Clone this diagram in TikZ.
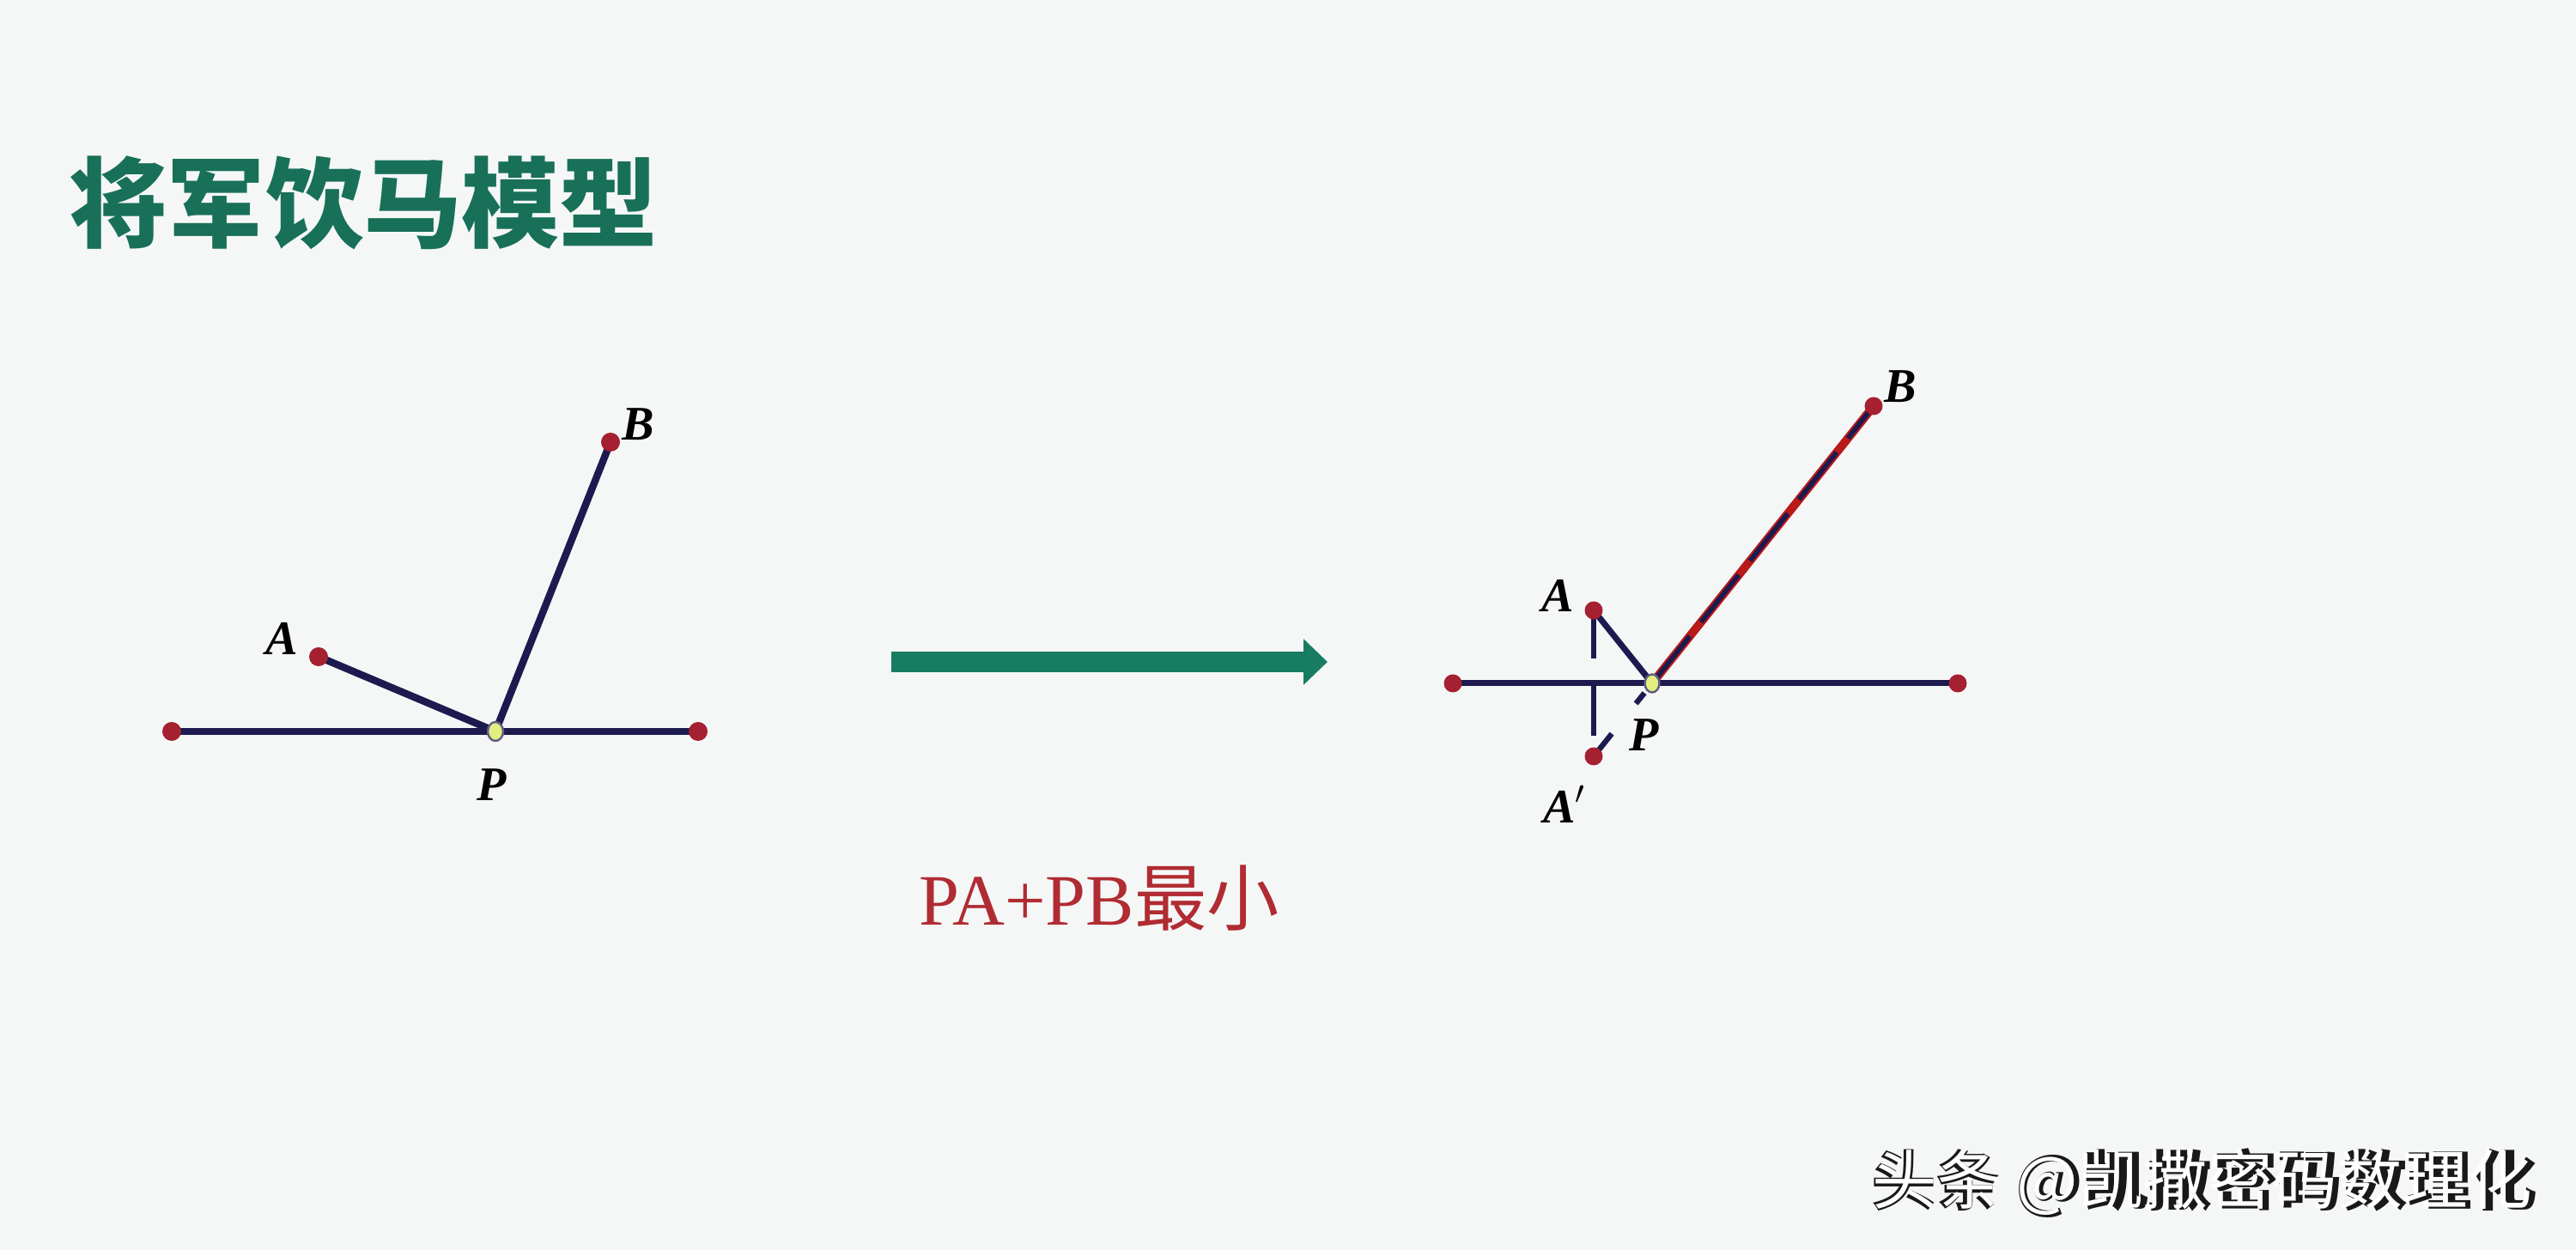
\documentclass[tikz,border=0pt]{standalone}
\usepackage{fontspec}
\setmainfont{Liberation Serif}
\newfontfamily\cjk{Noto Sans CJK SC}
\usetikzlibrary{arrows.meta}

\definecolor{titlegreen}{RGB}{24,112,88}
\definecolor{arrowgreen}{RGB}{24,124,98}
\definecolor{navy}{RGB}{28,26,78}
\definecolor{dotred}{RGB}{165,32,48}
\definecolor{pyellow}{RGB}{228,238,128}
\definecolor{minred}{RGB}{176,44,50}
\definecolor{paper}{RGB}{245,247,247}

\begin{document}
\begin{tikzpicture}[
    seg/.style={navy, line width=2.4pt, line cap=round},
    thinseg/.style={navy, line width=2.0pt, line cap=round},
    mirror/.style={navy, line width=1.8pt, dash pattern=on 16pt off 8.5pt on 17pt off 10pt},
    foldback/.style={navy, line width=1.8pt, dash pattern=on 9.6pt off 12.8pt on 4.5pt off 20pt},
    redpath/.style={red!70!black!90, line width=2.8pt},
    dot/.style={fill=dotred},
    pdot/.style={fill=pyellow, draw=navy!70, line width=0.7pt},
    lbl/.style={font=\fontsize{16}{16}\selectfont\bfseries\itshape, inner sep=0pt}]

  \fill[paper] (0,0) rectangle (30,14.56);
  \useasboundingbox (0,0) rectangle (30,14.56);

  % title
  \node[anchor=west, inner sep=0pt, text=titlegreen,
        font=\cjk\bfseries\fontsize{32.5}{32.5}\selectfont] (title) at (0.80,12.20)
        {将军饮马模型};

  % left figure
  \coordinate (L1) at (2.00,6.04);
  \coordinate (R1) at (8.13,6.04);
  \coordinate (P1) at (5.77,6.04);
  \coordinate (A1) at (3.71,6.91);
  \coordinate (B1) at (7.11,9.41);

  \draw[seg] (L1) -- (R1);
  \draw[seg] (A1) -- (P1);
  \draw[seg] (P1) -- (B1);
  \foreach \pt in {L1,R1,A1,B1}
    \fill[dot] (\pt) circle [radius=0.11];
  \draw[pdot] (P1) ellipse [x radius=0.09, y radius=0.11];

  \node[lbl] (labA1) at (3.28,7.12) {A};
  \node[lbl] (labB1) at (7.43,9.62) {B};
  \node[lbl] (labP1) at (5.73,5.42) {P};

  % arrow and condition
  \coordinate (arrtail) at (10.38,6.85);
  \coordinate (arrtip) at (15.46,6.85);
  \draw[arrowgreen, line width=7pt, -{Triangle[length=0.28cm, width=0.52cm]}] (arrtail) -- (arrtip);

  \node[text=minred, inner sep=0pt, font=\fontsize{24}{24}\selectfont] (goal) at (12.80,4.10)
        {PA+PB{\cjk 最小}};

  % right figure
  \coordinate (L2) at (16.92,6.60);
  \coordinate (R2) at (22.80,6.60);
  \coordinate (P2) at (19.24,6.60);
  \coordinate (A2) at (18.56,7.45);
  \coordinate (A2m) at (18.56,5.75);
  \coordinate (B2) at (21.82,9.83);

  \draw[thinseg] (L2) -- (R2);
  \draw[thinseg] (A2) -- (P2);
  \draw[mirror] (A2) -- (A2m);
  \draw[foldback] (A2m) -- (P2);
  \draw[redpath] (P2) -- (B2);
  \draw[navy, line width=1.6pt, dash pattern=on 20pt off 6pt] (P2) -- (B2);
  \foreach \pt in {L2,R2,A2,A2m,B2}
    \fill[dot] (\pt) circle [radius=0.105];
  \draw[pdot] (P2) ellipse [x radius=0.085, y radius=0.105];

  \node[lbl] (labA2) at (18.14,7.62) {A};
  \node[lbl] (labA2m) at (18.22,5.19) {A$'$};
  \node[lbl] (labB2) at (22.13,10.06) {B};
  \node[lbl] (labP2) at (19.15,6.00) {P};

  % watermark
  \node[text=black!90, inner sep=0pt, font=\cjk\bfseries\fontsize{21.5}{21.5}\selectfont] (mark) at (25.67,0.78)
        {头条 @凯撒密码数理化};
  \node[text=white, inner sep=0pt, font=\cjk\fontsize{21.5}{21.5}\selectfont] (markhi) at ([xshift=-0.6pt, yshift=0.4pt]mark.center)
        {头条 @凯撒密码数理化};
\end{tikzpicture}
\end{document}
